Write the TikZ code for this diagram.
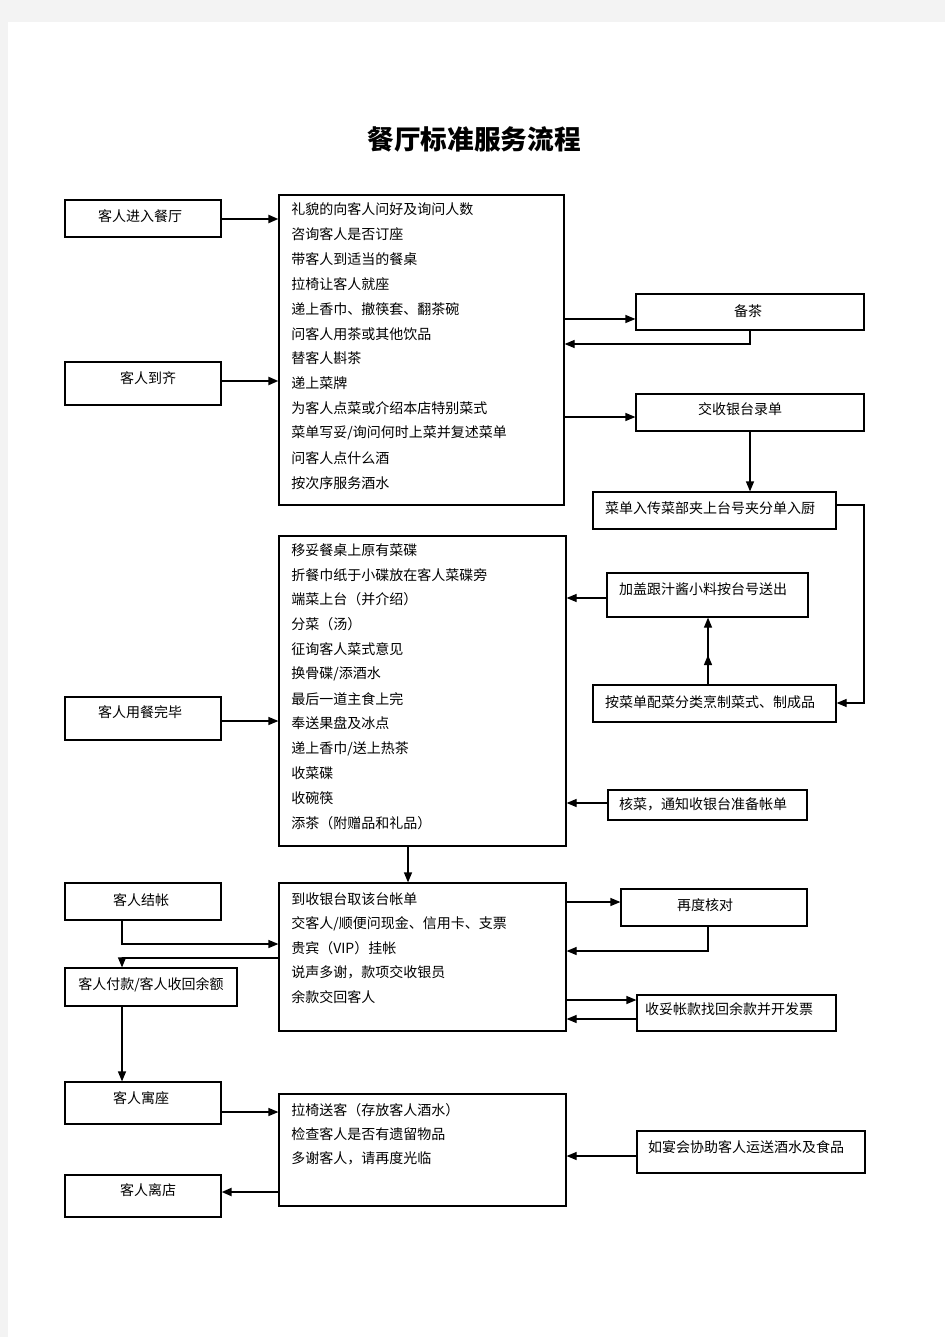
\documentclass[tikz,border=0pt]{standalone}
\usepackage{fontspec}
\setmainfont{Noto Sans CJK SC}
\usetikzlibrary{arrows.meta}
\definecolor{pagebg}{HTML}{F3F3F3}
\newcommand\pbox[5]{\node[box, minimum width={(#4-#2)*0.75pt}, minimum height={(#5-#3)*0.75pt}] (#1) at ({(#2+#4)/2},{(#3+#5)/2}) {};}
\begin{document}
\begin{tikzpicture}[x=0.75pt,y=-0.75pt,
  box/.style={draw, line width=0.9pt, inner sep=0pt, fill=white},
  txt/.style={font=\fontsize{10.5pt}{12pt}\selectfont, inner sep=0pt},
  ln/.style={txt, anchor=west},
  conn/.style={line width=0.9pt, -{Triangle[length=7.5pt,width=6pt]}},
  thickconn/.style={line width=1.6pt, -{Triangle[length=7.5pt,width=6pt]}}
]
\useasboundingbox (0,0) rectangle (945,1337);
\fill[pagebg] (0,0) rectangle (945,1337);
\fill[white] (8,22) rectangle (945,1337);

\node[font=\fontsize{20pt}{24pt}\selectfont\bfseries] (title) at (474,139) {餐厅标准服务流程};

% left boxes
\pbox{b1}{65}{200}{221}{237}
\node[txt] (t1) at (140,216) {客人进入餐厅};
\pbox{b2}{65}{362}{221}{405}
\node[txt] (t2) at (148,378) {客人到齐};
\pbox{b3}{65}{697}{221}{740}
\node[txt] (t3) at (140,712) {客人用餐完毕};
\pbox{b4}{65}{883}{221}{920}
\node[txt] (t4) at (141,900) {客人结帐};
\pbox{b5}{65}{968}{237}{1006}
\node[txt] (t5) at (151,985) {客人付款/客人收回余额};
\pbox{b6}{65}{1082}{221}{1124}
\node[txt] (t6) at (141,1098) {客人寓座};
\pbox{b7}{65}{1175}{221}{1217}
\node[txt] (t7) at (148,1190) {客人离店};

% main boxes
\pbox{A}{279}{195}{564}{505}
\foreach \s [count=\i from 0] in {礼貌的向客人问好及询问人数,咨询客人是否订座,带客人到适当的餐桌,拉椅让客人就座,递上香巾、撤筷套、翻茶碗,问客人用茶或其他饮品,替客人斟茶,递上菜牌,为客人点菜或介绍本店特别菜式,菜单写妥/询问何时上菜并复述菜单,问客人点什么酒,按次序服务酒水}
  \node[ln] (a\i) at (291,{209.5+\i*24.85}) {\s};

\pbox{B}{279}{536}{566}{846}
\foreach \s [count=\i from 0] in {移妥餐桌上原有菜碟,折餐巾纸于小碟放在客人菜碟旁,端菜上台（并介绍）,分菜（汤）,征询客人菜式意见,换骨碟/添酒水,最后一道主食上完,奉送果盘及冰点,递上香巾/送上热茶,收菜碟,收碗筷,添茶（附赠品和礼品）}
  \node[ln] (bl\i) at (291,{550+\i*24.8}) {\s};

\pbox{C}{279}{883}{566}{1031}
\foreach \s [count=\i from 0] in {到收银台取该台帐单,交客人/顺便问现金、信用卡、支票,贵宾（VIP）挂帐,说声多谢，款项交收银员,余款交回客人}
  \node[ln] (c\i) at (291,{899+\i*24.5}) {\s};

\pbox{D}{279}{1094}{566}{1206}
\foreach \s [count=\i from 0] in {拉椅送客（存放客人酒水）,检查客人是否有遗留物品,多谢客人，请再度光临}
  \node[ln] (d\i) at (291,{1110+\i*24}) {\s};

% right boxes
\pbox{cha}{636}{294}{864}{330}
\node[txt] (tcha) at (748,311) {备茶};
\pbox{lu}{636}{394}{864}{431}
\node[txt] (tlu) at (740,409) {交收银台录单};
\pbox{cd}{593}{492}{836}{529}
\node[txt] (tcd) at (710,508) {菜单入传菜部夹上台号夹分单入厨};
\pbox{jg}{607}{573}{808}{617}
\node[txt] (tjg) at (703,589) {加盖跟汁酱小料按台号送出};
\pbox{pc}{593}{685}{836}{722}
\node[txt] (tpc) at (710,702) {按菜单配菜分类烹制菜式、制成品};
\pbox{hc}{608}{790}{807}{820}
\node[txt] (thc) at (703,804) {核菜，通知收银台准备帐单};
\pbox{zd}{621}{889}{807}{926}
\node[txt] (tzd) at (705,905) {再度核对};
\pbox{st}{637}{995}{836}{1031}
\node[txt] (tst) at (729,1009) {收妥帐款找回余款并开发票};
\pbox{yh}{637}{1131}{865}{1173}
\node[txt] (tyh) at (746,1147) {如宴会协助客人运送酒水及食品};

% connectors
\draw[thickconn] (b1.east |- 0,219) -- (A.west |- 0,219);
\draw[thickconn] (b2.east |- 0,381) -- (A.west |- 0,381);
\draw[conn] (A.east |- 0,319) -- (cha.west |- 0,319);
\draw[conn] (cha.south) |- (A.east |- 0,344);
\draw[conn] (A.east |- 0,417) -- (lu.west |- 0,417);
\draw[conn] (lu.south) -- (lu.south |- cd.north);
\draw[conn] (cd.east |- 0,505) -| (864,703) -- (pc.east |- 0,703);
\draw[conn] (pc.north -| 708,0) -- (708,655);
\draw[conn] (pc.north -| 708,0) -- (jg.south -| 708,0);
\draw[conn] (jg.west |- 0,598) -- (B.east |- 0,598);
\draw[conn] (hc.west |- 0,803) -- (B.east |- 0,803);
\draw[conn] (b3.east |- 0,721) -- (B.west |- 0,721);
\draw[conn] (B.south -| 408,0) -- (C.north -| 408,0);
\draw[conn] (b4.south -| 122,0) |- (C.west |- 0,944);
\draw[conn] (C.west |- 0,958) -| (b5.north -| 122,0);
\draw[conn] (C.east |- 0,902) -- (zd.west |- 0,902);
\draw[conn] (zd.south -| 708,0) |- (C.east |- 0,951);
\draw[conn] (C.east |- 0,1000) -- (st.west |- 0,1000);
\draw[conn] (st.west |- 0,1019) -- (C.east |- 0,1019);
\draw[conn] (b5.south -| 122,0) -- (b6.north -| 122,0);
\draw[conn] (b6.east |- 0,1112) -- (D.west |- 0,1112);
\draw[thickconn] (D.west |- 0,1192) -- (b7.east |- 0,1192);
\draw[conn] (yh.west |- 0,1156) -- (D.east |- 0,1156);
\end{tikzpicture}
\end{document}
